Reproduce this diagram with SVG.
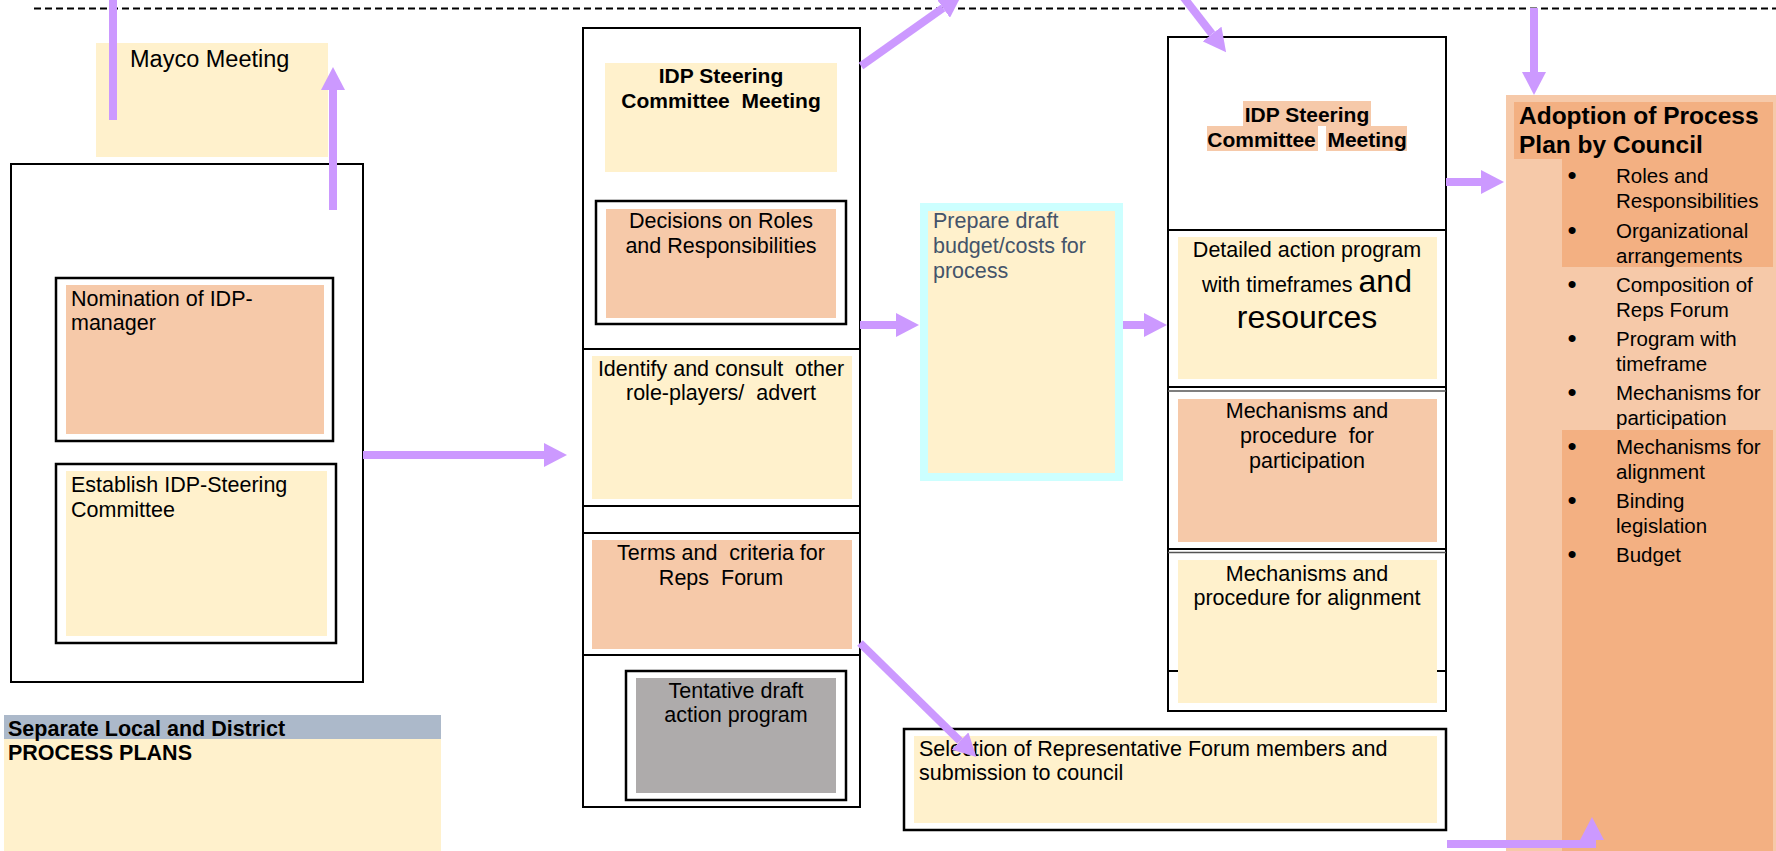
<svg xmlns="http://www.w3.org/2000/svg" width="1776" height="851" viewBox="0 0 1776 851">
  <style>
    text { font-family: "Liberation Sans", Arial, sans-serif; fill: #000; }
    .t { font-size: 21.5px; }
    .c { text-anchor: middle; }
    .b { font-weight: bold; }
    .pre { white-space: pre; }
    .dot { font-size: 26px; text-anchor: middle; }
    .frame { fill: #fff; stroke: #000; stroke-width: 2; }
    .inner { fill: none; stroke: #000; stroke-width: 2.5; }
    .rule { stroke: #000; stroke-width: 2; }
    .cream { fill: #FFF1CC; }
    .salmon { fill: #F6C9A9; }
    .deep { fill: #F3B082; }
    .grey { fill: #AEABAB; }
    .conn { fill: none; stroke: #CC99FF; stroke-width: 8; stroke-linecap: butt; }
  </style>
  <defs>
    <marker id="head" viewBox="0 0 23 24" refX="0" refY="12" markerWidth="23" markerHeight="24" markerUnits="userSpaceOnUse" orient="auto">
      <path d="M0,0 L23,12 L0,24 z" fill="#CC99FF"/>
    </marker>
  </defs>

  <rect width="1776" height="851" fill="#fff"/>

  <!-- timeline separator -->
  <line x1="34" y1="8.5" x2="1776" y2="8.5" stroke="#000" stroke-width="2" stroke-dasharray="7 4"/>

  <g id="mayco">
    <rect class="cream" x="96" y="43" width="232" height="114"/>
    <text x="130" y="67" style="font-size:23.5px">Mayco Meeting</text>
  </g>

  <g id="start-group">
    <rect class="frame" x="11" y="164" width="352" height="518"/>
  </g>

  <g id="nomination">
    <rect class="inner" x="56" y="278" width="277" height="163"/>
    <rect class="salmon" x="66" y="285" width="258" height="149"/>
    <text class="t" x="71" y="306">Nomination of IDP-</text>
    <text class="t" x="71" y="330">manager</text>
  </g>

  <g id="establish">
    <rect class="inner" x="56" y="464" width="280" height="179"/>
    <rect class="cream" x="66" y="471" width="261" height="165"/>
    <text class="t" x="71" y="492">Establish IDP-Steering</text>
    <text class="t" x="71" y="517">Committee</text>
  </g>

  <g id="legend">
    <rect x="4" y="715" width="437" height="24" fill="#ACB9CA"/>
    <rect class="cream" x="4" y="739" width="437" height="112"/>
    <text class="t b" x="8" y="736">Separate Local and District</text>
    <text class="t b" x="8" y="760">PROCESS PLANS</text>
  </g>

  <!-- second column: steering committee meeting and its decisions -->
  <g id="steering-1">
    <rect class="frame" x="583" y="28" width="277" height="779"/>
    <rect class="cream" x="605" y="63" width="232" height="109"/>
    <text class="b c pre" x="721" y="83" style="font-size:21px">IDP Steering</text>
    <text class="b c pre" x="721" y="108" style="font-size:21px">Committee  Meeting</text>
    <line class="rule" x1="583" y1="349" x2="860" y2="349"/>
    <line class="rule" x1="583" y1="506" x2="860" y2="506"/>
    <line class="rule" x1="583" y1="533" x2="860" y2="533"/>
    <line class="rule" x1="583" y1="655" x2="860" y2="655"/>
  </g>

  <g id="decisions">
    <rect class="inner" x="596" y="201" width="250" height="123"/>
    <rect class="salmon" x="606" y="209" width="230" height="109"/>
    <text class="t c" x="721" y="228">Decisions on Roles</text>
    <text class="t c" x="721" y="253">and Responsibilities</text>
  </g>

  <g id="identify">
    <rect class="cream" x="592" y="356" width="260" height="143"/>
    <text class="t c pre" x="721" y="376">Identify and consult  other</text>
    <text class="t c pre" x="721" y="400">role-players/  advert</text>
  </g>

  <g id="terms">
    <rect class="salmon" x="592" y="540" width="260" height="109"/>
    <text class="t c pre" x="721" y="560">Terms and  criteria for</text>
    <text class="t c pre" x="721" y="585">Reps  Forum</text>
  </g>

  <g id="tentative">
    <rect class="inner" x="626" y="671" width="220" height="129"/>
    <rect class="grey" x="636" y="678" width="200" height="115"/>
    <text class="t c" x="736" y="698">Tentative draft</text>
    <text class="t c" x="736" y="722">action program</text>
  </g>

  <g id="budget">
    <rect class="cream" x="924" y="207" width="195" height="270" stroke="#CCFFFF" stroke-width="8"/>
    <text class="t" x="933" y="228" style="fill:#44546A">Prepare draft</text>
    <text class="t" x="933" y="253" style="fill:#44546A">budget/costs for</text>
    <text class="t" x="933" y="278" style="fill:#44546A">process</text>
  </g>

  <g id="selection">
    <rect class="inner" x="904" y="729" width="542" height="101"/>
    <rect class="cream" x="914" y="736" width="523" height="87"/>
    <text class="t" x="919" y="756">Selection of Representative Forum members and</text>
    <text class="t" x="919" y="780">submission to council</text>
  </g>

  <!-- third column: second steering committee meeting -->
  <g id="steering-2">
    <rect class="frame" x="1168" y="37" width="278" height="674"/>
    <rect class="salmon" x="1243" y="101" width="128" height="25"/>
    <rect class="salmon" x="1207" y="126" width="111" height="25"/>
    <rect class="salmon" x="1326" y="126" width="81" height="25"/>
    <text class="b c pre" x="1307" y="122" style="font-size:21px">IDP Steering</text>
    <text class="b c pre" x="1307" y="147" style="font-size:21px">Committee  Meeting</text>
    <line class="rule" x1="1168" y1="230" x2="1446" y2="230"/>
    <line class="rule" x1="1168" y1="387" x2="1446" y2="387"/>
    <line x1="1168" y1="391" x2="1446" y2="391" stroke="#555" stroke-width="1.5"/>
    <line class="rule" x1="1168" y1="549" x2="1446" y2="549"/>
    <line x1="1168" y1="552.5" x2="1446" y2="552.5" stroke="#555" stroke-width="1.5"/>
    <line class="rule" x1="1168" y1="671" x2="1446" y2="671"/>
  </g>

  <g id="action-program">
    <rect class="cream" x="1178" y="237" width="259" height="142"/>
    <text class="t c" x="1307" y="257">Detailed action program</text>
    <text class="t c" x="1307" y="292">with timeframes <tspan style="font-size:32px">and</tspan></text>
    <text class="c" x="1307" y="328" style="font-size:32px">resources</text>
  </g>

  <g id="participation">
    <rect class="salmon" x="1178" y="399" width="259" height="143"/>
    <text class="t c" x="1307" y="418">Mechanisms and</text>
    <text class="t c pre" x="1307" y="443">procedure  for</text>
    <text class="t c" x="1307" y="468">participation</text>
  </g>

  <g id="alignment">
    <rect class="cream" x="1178" y="560" width="259" height="143"/>
    <text class="t c" x="1307" y="581">Mechanisms and</text>
    <text class="t c" x="1307" y="605">procedure for alignment</text>
  </g>

  <!-- adoption by council with its list of contents -->
  <g id="adoption">
    <rect class="salmon" x="1506" y="95" width="270" height="756"/>
    <rect class="deep" x="1514" y="102" width="259" height="57"/>
    <rect class="deep" x="1562" y="159" width="211" height="108"/>
    <rect class="deep" x="1562" y="430" width="211" height="421"/>
    <text class="b" x="1519" y="124" style="font-size:24.5px">Adoption of Process</text>
    <text class="b" x="1519" y="153" style="font-size:24.5px">Plan by Council</text>
    <g style="font-size:20.5px">
      <text class="dot" x="1572" y="184">•</text>
      <text x="1616" y="183">Roles and</text>
      <text x="1616" y="208">Responsibilities</text>
      <text class="dot" x="1572" y="239">•</text>
      <text x="1616" y="238">Organizational</text>
      <text x="1616" y="263">arrangements</text>
      <text class="dot" x="1572" y="293">•</text>
      <text x="1616" y="292">Composition of</text>
      <text x="1616" y="317">Reps Forum</text>
      <text class="dot" x="1572" y="347">•</text>
      <text x="1616" y="346">Program with</text>
      <text x="1616" y="371">timeframe</text>
      <text class="dot" x="1572" y="401">•</text>
      <text x="1616" y="400">Mechanisms for</text>
      <text x="1616" y="425">participation</text>
      <text class="dot" x="1572" y="455">•</text>
      <text x="1616" y="454">Mechanisms for</text>
      <text x="1616" y="479">alignment</text>
      <text class="dot" x="1572" y="509">•</text>
      <text x="1616" y="508">Binding</text>
      <text x="1616" y="533">legislation</text>
      <text class="dot" x="1572" y="563">•</text>
      <text x="1616" y="562">Budget</text>
    </g>
  </g>

  <g id="connectors">
    <line class="conn" x1="113" y1="-5" x2="113" y2="120"/>
    <line class="conn" x1="333" y1="210" x2="333" y2="90" marker-end="url(#head)"/>
    <line class="conn" x1="363" y1="455" x2="544" y2="455" marker-end="url(#head)"/>
    <line class="conn" x1="861" y1="66" x2="943" y2="8" marker-end="url(#head)"/>
    <line class="conn" x1="1181" y1="-6" x2="1212" y2="34" marker-end="url(#head)"/>
    <line class="conn" x1="860" y1="325" x2="896" y2="325" marker-end="url(#head)"/>
    <line class="conn" x1="1123" y1="325" x2="1144" y2="325" marker-end="url(#head)"/>
    <line class="conn" x1="1446" y1="182" x2="1481" y2="182" marker-end="url(#head)"/>
    <line class="conn" x1="1534" y1="8" x2="1534" y2="72" marker-end="url(#head)"/>
    <line class="conn" x1="860" y1="643" x2="960" y2="741" marker-end="url(#head)"/>
    <path class="conn" d="M1447,844 H1592 V840" marker-end="url(#head)"/>
  </g>
</svg>
